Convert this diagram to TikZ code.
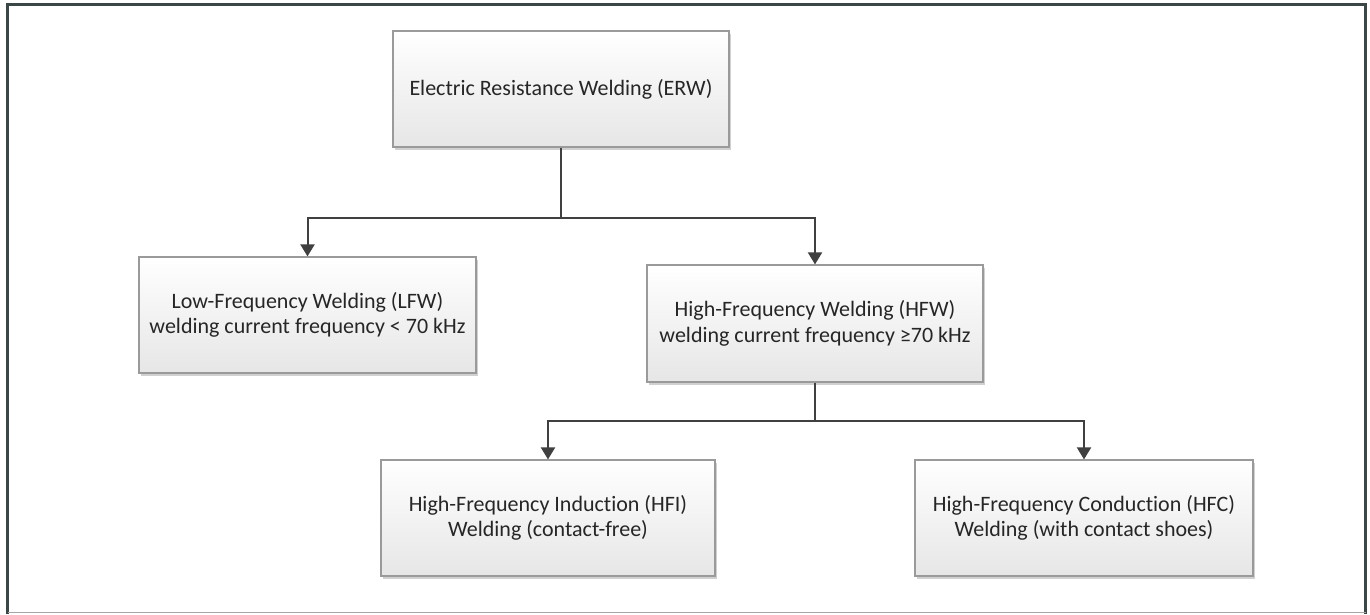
\documentclass[tikz,border=0pt]{standalone}
\usepackage{fontspec}
\setmainfont{Carlito}[Ligatures={NoCommon}]
\usetikzlibrary{arrows.meta,shadows}
\definecolor{framec}{HTML}{3B4747}
\definecolor{linec}{HTML}{404040}
\definecolor{boxborder}{HTML}{9A9A9A}
\definecolor{boxbot}{HTML}{E6E6E6}
\tikzset{
  box/.style={draw=boxborder, line width=1.2pt, top color=white, bottom color=boxbot,
    drop shadow={shadow xshift=2pt, shadow yshift=-2.5pt, fill=black!30, opacity=0.6},
    align=center, font=\fontsize{22}{25.5}\selectfont, text=black!85, inner sep=0pt},
  conn/.style={draw=linec, line width=2pt},
  arr/.style={conn, -{Triangle[width=14pt,length=12pt]}}
}
\begin{document}
\begin{tikzpicture}[x=1pt,y=-1pt]
\useasboundingbox (0,0) rectangle (1370,614);
\fill[white] (0,0) rectangle (1370,614);
% frame
\draw[framec, line width=3pt] (7.5,614) -- (7.5,4.5) -- (1365.5,4.5) -- (1365.5,614);
\draw[black!35, line width=1.5pt] (7.5,612.5) -- (1365.5,612.5);
% boxes
\node[box, minimum width=336pt, minimum height=116pt] (erw) at (561,89) {Electric Resistance Welding (ERW)};
\node[box, minimum width=337pt, minimum height=116pt] (lfw) at (307.5,315) {Low-Frequency Welding (LFW)\\welding current frequency < 70 kHz};
\node[box, minimum width=336pt, minimum height=117pt] (hfw) at (815,323.5) {High-Frequency Welding (HFW)\\welding current frequency ≥70 kHz};
\node[box, minimum width=334pt, minimum height=116pt] (hfi) at (548,518) {High-Frequency Induction (HFI)\\Welding (contact-free)};
\node[box, minimum width=338pt, minimum height=116pt] (hfc) at (1084,518) {High-Frequency Conduction (HFC)\\Welding (with contact shoes)};
% connectors
\coordinate (j1) at (561,218);
\coordinate (j2) at (815,421);
\draw[conn] (erw.south) -- (j1);
\draw[arr] (j1) -| (lfw.north);
\draw[arr] (j1) -| (hfw.north);
\draw[conn] (hfw.south) -- (j2);
\draw[arr] (j2) -| (hfi.north);
\draw[arr] (j2) -| (hfc.north);
\end{tikzpicture}
\end{document}
